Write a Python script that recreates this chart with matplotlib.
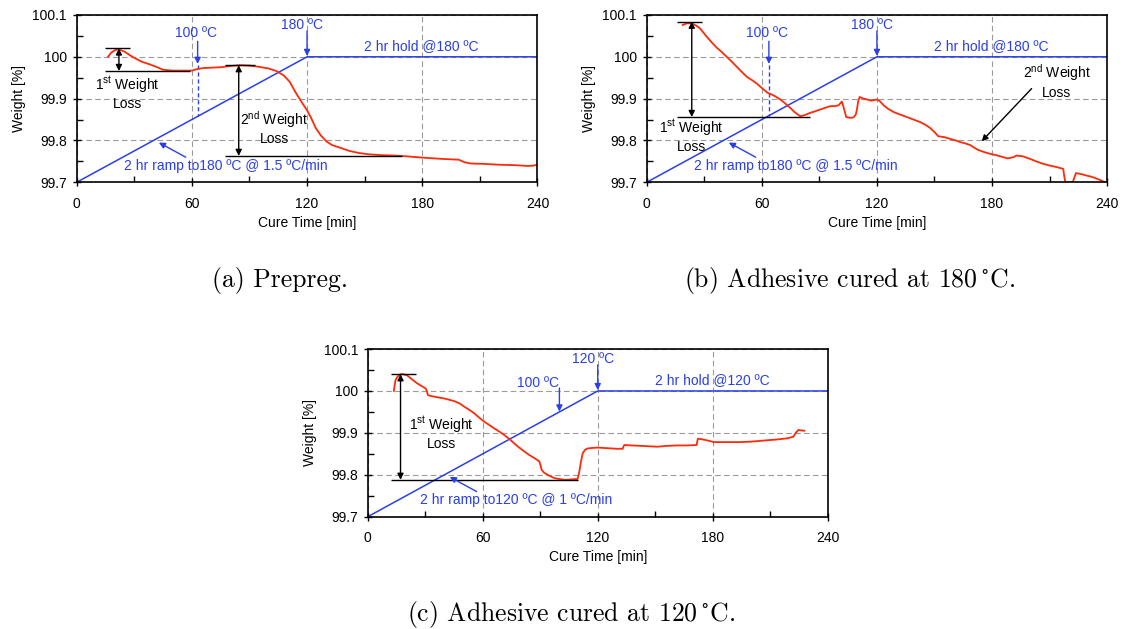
"""
TGA cure curves: prepreg and adhesive panels

"""

# imports
import numpy as np
import matplotlib.pyplot as plt
from matplotlib.ticker import MultipleLocator

plt.rcParams['font.family'] = ['Liberation Sans', 'DejaVu Sans']
plt.rcParams['mathtext.default'] = 'regular'

# ---- data -----------------------------------------------------------------
x_ticks = [0, 60, 120, 180, 240]
y_ticks = [99.7, 99.8, 99.9, 100.0, 100.1]
y_tick_labels = ['99.7', '99.8', '99.9', '100', '100.1']

# cure cycle (plotted on the weight scale): ramp then hold
ramp_time_180 = [0, 120, 240]
ramp_weight_180 = [99.7, 100.0, 100.0]
ramp_time_120 = [0, 120, 240]
ramp_weight_120 = [99.7, 100.0, 100.0]

# (a) prepreg
time_a = [16.3, 18, 20, 22, 25, 28, 31, 34, 38, 42, 45, 50, 55, 60, 63, 66,
          70, 75, 80, 85, 90, 95, 100, 104, 108, 111, 114, 117, 120, 122,
          124.5, 127, 130, 133, 137, 142, 147, 152, 158, 165, 172, 180, 190,
          199, 202, 205, 212, 220, 228, 235, 238, 240]
weight_a = [100.0, 100.01, 100.016, 100.018, 100.012, 100.003, 99.995,
            99.988, 99.982, 99.975, 99.969, 99.967, 99.967, 99.967, 99.971,
            99.973, 99.974, 99.975, 99.978, 99.980, 99.979, 99.976, 99.972,
            99.966, 99.955, 99.940, 99.915, 99.893, 99.872, 99.855, 99.830,
            99.813, 99.798, 99.789, 99.783, 99.775, 99.770, 99.767, 99.765,
            99.764, 99.762, 99.759, 99.756, 99.754, 99.748, 99.745, 99.744,
            99.742, 99.741, 99.739, 99.740, 99.742]

# (b) adhesive, 180 C cure
time_b = [18.8, 21, 23.5, 26, 27.8, 31.3, 34, 36.5, 39, 41.7, 44, 47, 50,
          52.2, 55, 57.4, 60.9, 63, 66, 69, 71.3, 74.8, 77, 80, 82, 85.2, 88,
          90.4, 93, 95.7, 98, 100, 101.7, 102.6, 104, 106, 107.8, 109, 109.6,
          110.3, 111, 113, 114.8, 117, 120, 121.5, 123.5, 126, 128.7, 132,
          135.6, 139, 142.5, 145, 147.7, 150, 152, 155, 158.1, 161, 163.4,
          166, 168.6, 171, 172.9, 176, 179, 182, 185.9, 188, 191.1, 192.8,
          196, 199.8, 203, 206.7, 210, 214, 217.1, 217.6, 218.2, 220, 222,
          222.8, 223.7, 226, 229.3, 232, 235, 238, 240]
weight_b = [100.076, 100.08, 100.08, 100.074, 100.068, 100.048, 100.034,
            100.022, 100.012, 100.0, 99.99, 99.976, 99.962, 99.952, 99.944,
            99.936, 99.922, 99.914, 99.908, 99.9, 99.892, 99.878, 99.868,
            99.858, 99.86, 99.866, 99.87, 99.874, 99.878, 99.882, 99.882,
            99.884, 99.893, 99.88, 99.856, 99.854, 99.855, 99.862, 99.875,
            99.895, 99.904, 99.9, 99.898, 99.895, 99.898, 99.894, 99.884,
            99.875, 99.868, 99.862, 99.856, 99.85, 99.844, 99.838, 99.83,
            99.82, 99.81, 99.808, 99.804, 99.8, 99.796, 99.793, 99.789,
            99.782, 99.777, 99.772, 99.768, 99.765, 99.76, 99.757, 99.76,
            99.764, 99.762, 99.756, 99.75, 99.744, 99.74, 99.736, 99.732,
            99.715, 99.70, 99.70, 99.70, 99.71, 99.722, 99.72, 99.716, 99.713,
            99.708, 99.702, 99.699]

# (c) adhesive, 120 C cure
time_c = [13.6, 14.1, 14.5, 15.5, 17.1, 18.5, 20.6, 23, 25.8, 28, 30.2,
          30.8, 31.4, 33, 36.3, 40, 45, 48, 50.2, 53, 55.5, 58, 60.7, 63,
          65.9, 68, 71.2, 74, 76.4, 79, 81.6, 84, 86.9, 89.5, 90.2, 90.7, 92,
          93.8, 96, 97.3, 100, 102.6, 106, 109.5, 110.4, 111.2, 112.2, 113.5,
          114.8, 117, 120, 123, 126.9, 130, 133, 133.8, 138, 142.5, 147,
          151.1, 156, 161.5, 166, 171.6, 172.2, 174, 176.2, 180.6, 185,
          189.2, 194, 199.6, 205, 210, 213, 216.9, 219, 222.1, 223.3, 224.7,
          226, 227.8]
weight_c = [100.0, 100.015, 100.026, 100.034, 100.04, 100.04, 100.037,
            100.028, 100.018, 100.012, 100.006, 100.0, 99.99, 99.988, 99.985,
            99.982, 99.976, 99.97, 99.963, 99.955, 99.947, 99.937, 99.927,
            99.92, 99.911, 99.905, 99.895, 99.885, 99.875, 99.865, 99.856,
            99.848, 99.84, 99.832, 99.822, 99.812, 99.805, 99.8, 99.795,
            99.792, 99.79, 99.788, 99.789, 99.79, 99.808, 99.83, 99.852,
            99.86, 99.863, 99.864, 99.865, 99.864, 99.863, 99.862, 99.862,
            99.871, 99.87, 99.869, 99.868, 99.867, 99.869, 99.87, 99.87,
            99.871, 99.886, 99.885, 99.883, 99.878, 99.878, 99.878, 99.878,
            99.879, 99.881, 99.883, 99.884, 99.886, 99.887, 99.891, 99.9,
            99.907, 99.906, 99.905]

# weight-loss marker levels: (time of arrow, upper level, lower level)
loss1_a = (22, 100.02, 99.966)
loss2_a = (84.4, 99.98, 99.763)
loss1_b = (23.5, 100.084, 99.856)
loss1_c = (17.1, 100.04, 99.788)

captions = ['(a) Prepreg.',
            r'(b) Adhesive cured at 180$\,^{\circ}$C.',
            r'(c) Adhesive cured at 120$\,^{\circ}$C.']

RED = '#ff2a0a'
BLUE = '#2a3fe8'
FS = 10


def setup_ax(ax):
    """
    Axis limits, ticks, grid and labels shared by all panels.
    """
    ax.set_xlim(0, 240)
    ax.set_ylim(99.7, 100.1)
    ax.set_xticks(x_ticks)
    ax.set_yticks(y_ticks)
    ax.set_yticklabels(y_tick_labels)
    ax.xaxis.set_minor_locator(MultipleLocator(30))
    ax.yaxis.set_minor_locator(MultipleLocator(0.05))
    ax.tick_params(which='major', direction='inout', length=6, width=1,
                   labelsize=FS)
    ax.tick_params(which='minor', direction='in', length=4, width=1)
    ax.tick_params(axis='x', which='major', pad=7.5)
    ax.tick_params(axis='y', which='major', pad=4)
    ax.grid(True, which='major', color='#9a9a9a', linestyle=(0, (5, 3)),
            linewidth=0.8)
    for spine in ax.spines.values():
        spine.set_linewidth(1.2)

    # axis labels
    ax.set_xlabel('Cure Time [min]', fontsize=FS)
    ax.set_ylabel('Weight [%]', fontsize=FS)
    ax.xaxis.label.set_va('center')
    ax.yaxis.label.set(ha='center', va='center')
    ax.xaxis.set_label_coords(0.5, -0.242)
    ax.yaxis.set_label_coords(-0.125, 0.5)


def loss_marker(ax, marker, x0, x1_top, x1_bot, text, text_xy):
    """
    Double-headed black arrow between two horizontal level bars.
    """
    t, top, bot = marker
    ax.hlines(top, x0, x1_top, color='k', lw=1)
    ax.hlines(bot, x0, x1_bot, color='k', lw=1)
    ax.annotate('', xy=(t, bot), xytext=(t, top),
                arrowprops=dict(arrowstyle='<|-|>', color='k', lw=1,
                                mutation_scale=9, shrinkA=0, shrinkB=0))
    ax.text(*text_xy, text, ha='center', va='center', fontsize=FS)


def blue_arrow(ax, xy, xytext):
    ax.annotate('', xy=xy, xytext=xytext,
                arrowprops=dict(arrowstyle='-|>', color=BLUE, lw=1,
                                mutation_scale=9, shrinkA=0, shrinkB=0))


def plot_cycle(ax, ramp_time, ramp_weight, peak, ramp_text, hold_text,
               hundred_xy, hundred_arrow_x, dashed=True):
    """
    Draw the ramp/hold line and its blue labels.
    """
    ax.plot(ramp_time, ramp_weight, color=BLUE, lw=1.1)

    # peak temperature arrow
    ax.text(117.4, 100.076, peak, ha='center', va='center', color=BLUE,
            fontsize=FS)
    blue_arrow(ax, (120, 100.002), (120, 100.062))

    # hold and ramp labels
    ax.text(179.6, 100.025, hold_text, ha='center', va='center', color=BLUE,
            fontsize=FS)
    ax.text(77.6, 99.74, ramp_text, ha='center', va='center', color=BLUE,
            fontsize=FS)
    blue_arrow(ax, (42.8, 99.795), (56.8, 99.76))

    # 100 C marker
    ax.text(*hundred_xy, '100 ºC', ha='center', va='center', color=BLUE,
            fontsize=FS)
    ramp_val = np.interp(hundred_arrow_x, ramp_time, ramp_weight)
    if dashed:
        blue_arrow(ax, (hundred_arrow_x, 99.983), (hundred_arrow_x, 100.037))
        ax.plot([hundred_arrow_x, hundred_arrow_x], [99.98, ramp_val],
                color=BLUE, lw=1, linestyle=(0, (3, 2)))
    else:
        blue_arrow(ax, (hundred_arrow_x, ramp_val + 0.001),
                   (hundred_arrow_x, 100.007))


# ---- figure -----------------------------------------------------------------
fig = plt.figure(figsize=(11.26, 6.29), dpi=100)
ax_a = fig.add_axes([0.0681, 0.7102, 0.4092, 0.266])
ax_b = fig.add_axes([0.5743, 0.7102, 0.4090, 0.266])
ax_c = fig.add_axes([0.3266, 0.1785, 0.4085, 0.2666])

for ax in (ax_a, ax_b, ax_c):
    setup_ax(ax)

# (a) prepreg
plot_cycle(ax_a, ramp_time_180, ramp_weight_180, '180 ºC',
           '2 hr ramp to180 ºC @ 1.5 ºC/min', '2 hr hold @180 ºC',
           (62, 100.058), 63)
ax_a.plot(time_a, weight_a, color=RED, lw=1.3)
loss_marker(ax_a, loss1_a, 15, 28, 59, '1$^{st}$ Weight\nLoss', (26.3, 99.915))
loss_marker(ax_a, loss2_a, 77, 93, 169.4, '2$^{nd}$ Weight\nLoss',
            (103, 99.830))

# (b) adhesive cured at 180 C
plot_cycle(ax_b, ramp_time_180, ramp_weight_180, '180 ºC',
           '2 hr ramp to180 ºC @ 1.5 ºC/min', '2 hr hold @180 ºC',
           (62.6, 100.058), 63.7)
ax_b.plot(time_b, weight_b, color=RED, lw=1.3)
loss_marker(ax_b, loss1_b, 16, 29, 85, '1$^{st}$ Weight\nLoss', (23.5, 99.812))
ax_b.text(213.6, 99.942, '2$^{nd}$ Weight\nLoss', ha='center', va='center',
          fontsize=FS)
ax_b.annotate('', xy=(174.6, 99.798), xytext=(200.6, 99.924),
              arrowprops=dict(arrowstyle='-|>', color='k', lw=1,
                              mutation_scale=9, shrinkA=0, shrinkB=0))

# (c) adhesive cured at 120 C
plot_cycle(ax_c, ramp_time_120, ramp_weight_120, '120 ºC',
           '2 hr ramp to120 ºC @ 1 ºC/min', '2 hr hold @120 ºC',
           (88.6, 100.02), 100, dashed=False)
ax_c.plot(time_c, weight_c, color=RED, lw=1.3)
loss_marker(ax_c, loss1_c, 12, 25.3, 109.5, '1$^{st}$ Weight\nLoss',
            (38.4, 99.90))

# captions
cap_font = ['cmr10', 'DejaVu Serif']
fig.text(0.2487, 0.5442, captions[0], ha='center', va='baseline',
         fontsize=18.5, family=cap_font, math_fontfamily='cm')
fig.text(0.7549, 0.5442, captions[1], ha='center', va='baseline',
         fontsize=18.5, family=cap_font, math_fontfamily='cm')
fig.text(0.5071, 0.0126, captions[2], ha='center', va='baseline',
         fontsize=18.5, family=cap_font, math_fontfamily='cm')

fig.savefig('out.png', dpi=100)
